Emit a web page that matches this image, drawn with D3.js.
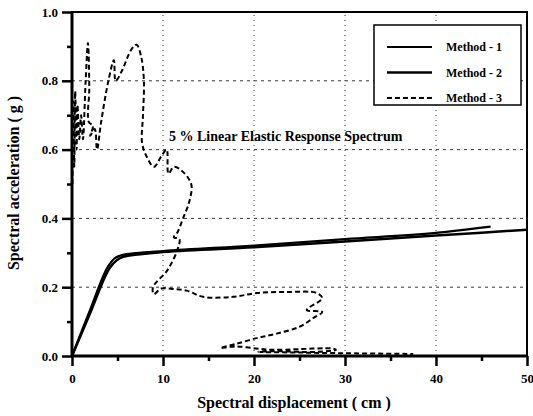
<!DOCTYPE html>
<html>
<head>
<meta charset="utf-8">
<script src="https://cdn.jsdelivr.net/npm/d3@7"></script>
<style>
  body { margin: 0; background: #fff; }
  text { font-family: "Liberation Serif", "DejaVu Serif", serif; font-weight: bold; fill: #000; }
</style>
</head>
<body>
<script>
var width = 533;
var height = 416;
var margin = { top: 12, right: 6, bottom: 60, left: 72 };

// tick values
var xTicks = [0, 10, 20, 30, 40, 50];
var yTicks = [0, 0.2, 0.4, 0.6, 0.8, 1.0];

// Method 1 and 2 (capacity curves)
var method1Sd = [0, 2, 4.0, 4.6, 5.2, 6, 7, 10, 20, 30, 40, 46];
var method1Sa = [0, 0.135, 0.262, 0.282, 0.291, 0.296, 0.299, 0.305, 0.321, 0.34, 0.358, 0.376];

var method2Sd = [0, 2, 4.2, 4.9, 5.6, 6.5, 8, 10, 20, 30, 40, 50];
var method2Sa = [0, 0.125, 0.258, 0.278, 0.288, 0.293, 0.297, 0.302, 0.316, 0.333, 0.35, 0.367];

// Method 3 (5% linear elastic response spectrum)
var method3Sd = [0.05, 0.15, 0.25, 0.35, 0.5, 0.6, 0.8, 1.0, 1.2, 1.5, 1.75, 1.9, 1.85, 2.3, 2.0, 2.5, 2.75,
  3.2, 4.0, 4.6, 4.8, 5.5, 6.5, 7.1, 7.6, 7.9, 7.8, 7.7, 8.2, 9.0, 9.8, 10.4, 10.6, 11.2, 12.0,
  13.1, 12.9, 12.2, 11.6, 11.2, 11.8, 11.6, 10.5, 8.9, 9.0, 9.8, 11, 12.6, 14.4, 17.7, 20.3, 23.6,
  26.9, 27.5, 25.8, 27.5, 26.5, 25, 22.5, 20.3, 18, 16.3, 18, 20.2, 22, 25, 28.5, 29, 27, 22,
  20.5, 25, 30, 37.5];
var method3Sa = [0.50, 0.74, 0.55, 0.77, 0.60, 0.73, 0.63, 0.70, 0.63, 0.80, 0.91, 0.78, 0.68, 0.67, 0.64, 0.66, 0.60,
  0.68, 0.80, 0.86, 0.80, 0.83, 0.89, 0.905, 0.87, 0.80, 0.70, 0.62, 0.58, 0.55, 0.58, 0.60, 0.53, 0.55, 0.54,
  0.50, 0.45, 0.40, 0.36, 0.345, 0.34, 0.31, 0.25, 0.20, 0.18, 0.196, 0.195, 0.19, 0.172, 0.172, 0.183, 0.186,
  0.183, 0.168, 0.134, 0.128, 0.11, 0.085, 0.065, 0.052, 0.035, 0.023, 0.028, 0.022, 0.018, 0.02, 0.022, 0.018, 0.012, 0.014,
  0.012, 0.01, 0.008, 0.006];

var legendLabels = ['Method - 1', 'Method - 2', 'Method - 3'];

function zip(xs, ys) {
  return xs.map(function(x, i) { return [x, ys[i]]; });
}

var svg = d3.select('body')
  .append('svg')
  .attr('width', width)
  .attr('height', height);

var xScale = d3.scaleLinear()
  .domain([0, 50])
  .range([margin.left, width - margin.right]);

var yScale = d3.scaleLinear()
  .domain([0, 1])
  .range([height - margin.bottom, margin.top]);

// grid lines
svg.selectAll('line.hgrid')
  .data([0.2, 0.4, 0.6, 0.8])
  .enter()
  .append('line')
  .attr('class', 'hgrid')
  .attr('x1', xScale(0))
  .attr('x2', xScale(50))
  .attr('y1', function(d) { return yScale(d); })
  .attr('y2', function(d) { return yScale(d); })
  .attr('stroke', '#333')
  .attr('stroke-width', 1)
  .attr('stroke-dasharray', '3,4');

svg.selectAll('line.vgrid')
  .data([10, 20, 30, 40])
  .enter()
  .append('line')
  .attr('class', 'vgrid')
  .attr('x1', function(d) { return xScale(d); })
  .attr('x2', function(d) { return xScale(d); })
  .attr('y1', yScale(0))
  .attr('y2', yScale(1))
  .attr('stroke', '#333')
  .attr('stroke-width', 1)
  .attr('stroke-dasharray', '1,4');

// axes
var xAxis = d3.axisBottom(xScale)
  .tickValues(xTicks)
  .tickSize(10)
  .tickPadding(8)
  .tickFormat(d3.format('d'));

var xMinor = d3.axisBottom(xScale)
  .tickValues([5, 15, 25, 35, 45])
  .tickSize(5)
  .tickFormat('');

var yAxis = d3.axisLeft(yScale)
  .tickValues(yTicks)
  .tickSize(10)
  .tickPadding(4)
  .tickFormat(d3.format('.1f'));

var yMinor = d3.axisLeft(yScale)
  .tickValues([0.1, 0.3, 0.5, 0.7, 0.9])
  .tickSize(5)
  .tickFormat('');

[xAxis, xMinor].forEach(function(ax) {
  svg.append('g')
    .attr('transform', 'translate(0,' + yScale(0) + ')')
    .call(ax);
});
[yAxis, yMinor].forEach(function(ax) {
  svg.append('g')
    .attr('transform', 'translate(' + xScale(0) + ',0)')
    .call(ax);
});

svg.selectAll('.tick line')
  .attr('stroke', '#000')
  .attr('stroke-width', 2.5);
svg.selectAll('.domain').remove();
svg.selectAll('.tick text')
  .attr('font-size', 13)
  .style('font-family', '"Liberation Serif", serif')
  .style('font-weight', 'bold');

// frame
svg.append('rect')
  .attr('x', xScale(0))
  .attr('y', yScale(1))
  .attr('width', xScale(50) - xScale(0))
  .attr('height', yScale(0) - yScale(1))
  .attr('fill', 'none')
  .attr('stroke', '#000')
  .attr('stroke-width', 2);

svg.append('line')
  .attr('x1', xScale(0)).attr('x2', xScale(0))
  .attr('y1', yScale(1) - 1).attr('y2', yScale(0) + 1)
  .attr('stroke', '#000').attr('stroke-width', 3);
svg.append('line')
  .attr('x1', xScale(0) - 1).attr('x2', xScale(50) + 1)
  .attr('y1', yScale(0)).attr('y2', yScale(0))
  .attr('stroke', '#000').attr('stroke-width', 3);

// curves
var line = d3.line()
  .x(function(d) { return xScale(d[0]); })
  .y(function(d) { return yScale(d[1]); });

svg.append('path')
  .datum(zip(method3Sd, method3Sa))
  .attr('d', line.curve(d3.curveCatmullRom.alpha(0.5)))
  .attr('fill', 'none')
  .attr('stroke', '#000')
  .attr('stroke-width', 2)
  .attr('stroke-dasharray', '5,3');

line.curve(d3.curveMonotoneX);

svg.append('path')
  .datum(zip(method1Sd, method1Sa))
  .attr('d', line)
  .attr('fill', 'none')
  .attr('stroke', '#000')
  .attr('stroke-width', 2.2);

svg.append('path')
  .datum(zip(method2Sd, method2Sa))
  .attr('d', line)
  .attr('fill', 'none')
  .attr('stroke', '#000')
  .attr('stroke-width', 2.5);

// annotation
svg.append('text')
  .attr('x', 169)
  .attr('y', 141)
  .attr('font-size', 14)
  .text('5 % Linear Elastic Response Spectrum');

// legend
var legend = svg.append('g');
legend.append('rect')
  .attr('x', 374)
  .attr('y', 25)
  .attr('width', 147)
  .attr('height', 80)
  .attr('fill', '#fff')
  .attr('stroke', '#000')
  .attr('stroke-width', 1.5);

legend.selectAll('line.key')
  .data(legendLabels)
  .enter()
  .append('line')
  .attr('class', 'key')
  .attr('x1', 387)
  .attr('x2', 432)
  .attr('y1', function(d, i) { return 47 + i * 25.5; })
  .attr('y2', function(d, i) { return 47 + i * 25.5; })
  .attr('stroke', '#000')
  .attr('stroke-width', function(d, i) { return i === 1 ? 2.5 : 2; })
  .attr('stroke-dasharray', function(d, i) { return i === 2 ? '5,3' : null; });

legend.selectAll('text.key')
  .data(legendLabels)
  .enter()
  .append('text')
  .attr('class', 'key')
  .attr('x', 446)
  .attr('y', function(d, i) { return 51 + i * 25.5; })
  .attr('font-size', 12)
  .text(function(d) { return d; });

// axis titles
svg.append('text')
  .attr('x', 294)
  .attr('y', 408)
  .attr('text-anchor', 'middle')
  .attr('font-size', 16)
  .text('Spectral displacement ( cm )');

svg.append('text')
  .attr('transform', 'translate(19,183) rotate(-90)')
  .attr('text-anchor', 'middle')
  .attr('font-size', 16)
  .text('Spectral acceleration ( g )');
</script>
</body>
</html>
